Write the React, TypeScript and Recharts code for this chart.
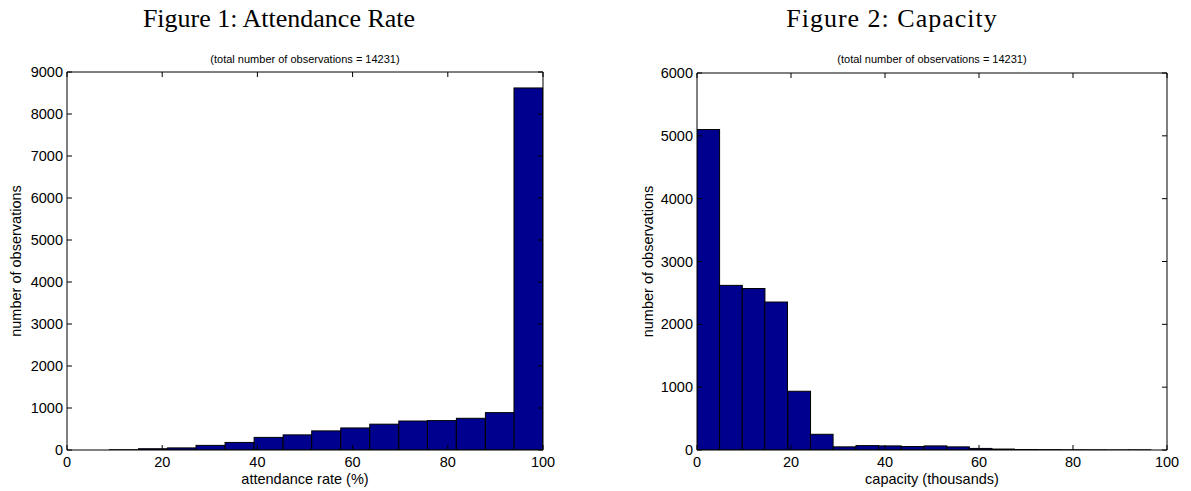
import { BarChart, Bar, XAxis, YAxis, Label } from "recharts";

// bin centres (MATLAB hist output)
const attendanceCenters = [12.0, 18.1, 24.2, 30.2, 36.3, 42.4, 48.5, 54.5, 60.6, 66.7, 72.8, 78.8, 84.9, 91.0, 97.0];
const attendanceCounts = [5, 30, 50, 110, 180, 300, 360, 455, 525, 615, 690, 700, 755, 890, 8620];
const attendanceBinWidth = 6.07;

const capacityCenters = [2.45, 7.28, 12.1, 16.9, 21.8, 26.6, 31.4, 36.3, 41.1, 45.9, 50.8, 55.6, 60.4, 65.2, 70.1, 74.9, 79.7, 84.6, 89.4, 94.2];
const capacityCounts = [5100, 2620, 2570, 2355, 935, 250, 50, 70, 65, 55, 65, 50, 25, 15, 8, 5, 3, 2, 1, 2];
const capacityBinWidth = 4.83;

const xTicks = [0, 20, 40, 60, 80, 100];
const attendanceYTicks = [0, 1000, 2000, 3000, 4000, 5000, 6000, 7000, 8000, 9000];
const capacityYTicks = [0, 1000, 2000, 3000, 4000, 5000, 6000];

const sans = "'Liberation Sans', Arial, Helvetica, sans-serif";
const serif = "'Liberation Serif', 'Times New Roman', serif";
const H = 491;

type HistProps = {
  left: number;
  chartWidth: number;
  plotLeft: number;
  plotRight: number;
  plotTop: number;
  plotBottom: number;
  labelX: number;
  titleX: number;
  titleSpacing: number;
  centers: number[];
  counts: number[];
  binWidth: number;
  yTicks: number[];
  title: string;
  xLabel: string;
};

function Histogram(p: HistProps) {
  const data = p.centers.map((c, i) => ({ center: c, count: p.counts[i] }));
  const yMax = p.yTicks[p.yTicks.length - 1];
  // full bin width in pixels, so neighbouring bars touch like in hist()
  const binPx = (p.binWidth * (p.plotRight - p.plotLeft)) / 100;
  const tickStyle = { fill: "#000", fontSize: 14.5, fontFamily: sans };
  const subX = (p.plotLeft + p.plotRight) / 2;

  const binShape = (props: any) => {
    const { x, y, width, height } = props;
    if (height == null || height <= 0) return <g />;
    const cx = x + width / 2;
    return <rect x={cx - binPx / 2} y={y} width={binPx} height={height} fill="#00008F" stroke="#000" strokeWidth={1} />;
  };

  return (
    <div style={{ position: "absolute", left: p.left, top: 0, width: p.chartWidth, height: H }}>
      <div
        style={{
          position: "absolute", left: p.titleX - 300, width: 600, top: 4,
          textAlign: "center", fontFamily: serif, fontSize: 26, color: "#000",
          whiteSpace: "nowrap", letterSpacing: p.titleSpacing,
        }}
      >
        {p.title}
      </div>
      <div
        style={{
          position: "absolute", left: subX - 300, width: 600, top: 53,
          textAlign: "center", fontFamily: sans, fontSize: 11, color: "#000", whiteSpace: "nowrap",
        }}
      >
        (total number of observations = 14231)
      </div>
      <BarChart
        width={p.chartWidth}
        height={H}
        data={data}
        margin={{ top: p.plotTop - 1, right: p.chartWidth - p.plotRight - 1, bottom: 0, left: 0 }}
        style={{ position: "absolute", left: 0, top: 0 }}
      >
        <XAxis
          xAxisId="b"
          type="number"
          dataKey="center"
          domain={[0, 100]}
          ticks={xTicks}
          allowDataOverflow
          height={H - p.plotBottom}
          tickSize={-5}
          tickMargin={12}
          tick={tickStyle}
          axisLine={{ stroke: "#000" }}
          tickLine={{ stroke: "#000" }}
        >
          <Label value={p.xLabel} position="insideBottom" offset={7} style={{ fill: "#000", fontSize: 14.5, fontFamily: sans }} />
        </XAxis>
        <XAxis
          xAxisId="t"
          orientation="top"
          type="number"
          dataKey="center"
          domain={[0, 100]}
          ticks={xTicks}
          allowDataOverflow
          height={1}
          tickSize={-5}
          tickFormatter={() => ""}
          axisLine={{ stroke: "#000" }}
          tickLine={{ stroke: "#000" }}
        />
        <YAxis
          yAxisId="l"
          type="number"
          domain={[0, yMax]}
          ticks={p.yTicks}
          allowDataOverflow
          width={p.plotLeft}
          tickSize={-5}
          tickMargin={9}
          tick={tickStyle}
          axisLine={{ stroke: "#000" }}
          tickLine={{ stroke: "#000" }}
        >
          <Label
            value="number of observations"
            angle={-90}
            position="insideLeft"
            offset={p.labelX}
            style={{ fill: "#000", fontSize: 14.5, fontFamily: sans, textAnchor: "middle" }}
          />
        </YAxis>
        <YAxis
          yAxisId="r"
          orientation="right"
          type="number"
          domain={[0, yMax]}
          ticks={p.yTicks}
          allowDataOverflow
          width={1}
          tickSize={-5}
          tickFormatter={() => ""}
          axisLine={{ stroke: "#000" }}
          tickLine={{ stroke: "#000" }}
        />
        <Bar
          xAxisId="b"
          yAxisId="l"
          dataKey="count"
          barSize={20}
          shape={binShape}
          isAnimationActive={false}
        />
      </BarChart>
    </div>
  );
}

export default function App() {
  return (
    <div style={{ position: "absolute", left: 0, top: 0, width: 1191, height: H, background: "#fff" }}>
      <Histogram
        left={0}
        chartWidth={595}
        plotLeft={67}
        plotRight={543}
        plotTop={72}
        plotBottom={450}
        labelX={16}
        titleX={279}
        titleSpacing={0}
        centers={attendanceCenters}
        counts={attendanceCounts}
        binWidth={attendanceBinWidth}
        yTicks={attendanceYTicks}
        title="Figure 1: Attendance Rate"
        xLabel="attendance rate (%)"
      />
      <Histogram
        left={596}
        chartWidth={595}
        plotLeft={101}
        plotRight={571}
        plotTop={73}
        plotBottom={450}
        labelX={52}
        titleX={296}
        titleSpacing={1}
        centers={capacityCenters}
        counts={capacityCounts}
        binWidth={capacityBinWidth}
        yTicks={capacityYTicks}
        title="Figure 2: Capacity"
        xLabel="capacity (thousands)"
      />
    </div>
  );
}
